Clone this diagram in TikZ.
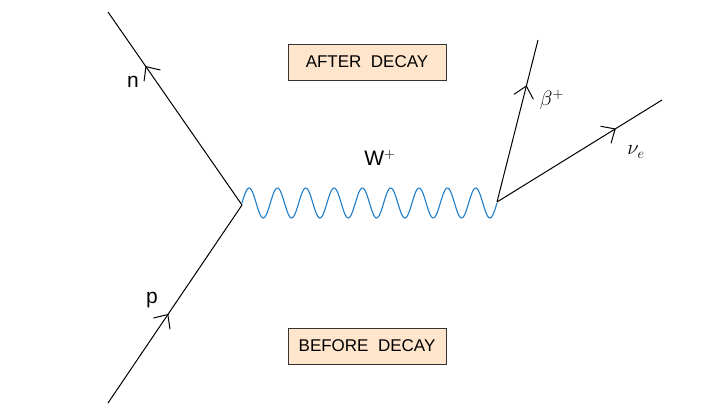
\documentclass[tikz,border=0pt]{standalone}
\usepackage{fontspec}
\setmainfont{Liberation Sans}
\usetikzlibrary{arrows.meta,decorations.markings}
\begin{document}
\begin{tikzpicture}[x=1pt,y=-1pt,
  fline/.style={line width=1pt,postaction={decorate},decoration={markings,mark=at position #1 with {\arrow{Straight Barb[length=11pt,width=20pt,line width=1pt]}}}},
  lbox/.style={draw=black!80,fill=orange!20,minimum width=158pt,minimum height=36pt,font=\fontsize{17}{20}\selectfont},
  lab/.style={font=\fontsize{21}{24}\selectfont}]
\useasboundingbox (0,0) rectangle (722,410);
\coordinate (L) at (242,205);
\coordinate (R) at (497,202);
\coordinate (pin) at (108,403);
\coordinate (nout) at (108,12);
\coordinate (bout) at (538,40);
\coordinate (vout) at (662,100);
\draw[fline=0.45] (pin) -- (L);
\draw[fline=0.72] (L) -- (nout);
\draw[fline=0.72] (R) -- (bout);
\draw[fline=0.72] (R) -- (vout);
\draw[color={rgb,255:red,30;green,125;blue,200},line width=1.1pt,domain=0:255,samples=300] plot ({242+\x},{203-15*sin(\x/28.33*360)});
\node[lbox] (after) at (367,62) {AFTER\ \ DECAY};
\node[lbox] (before) at (367,346) {BEFORE\ \ DECAY};
\node[lab] (n) at (133,82) {n};
\node[lab] (p) at (152,300) {p};
\node[lab] (w) at (380,158) {W$^{+}$};
\node[lab] (b) at (552,100) {$\beta^{+}$};
\node[lab] (v) at (636,152) {$\nu_{e}$};
\end{tikzpicture}
\end{document}
